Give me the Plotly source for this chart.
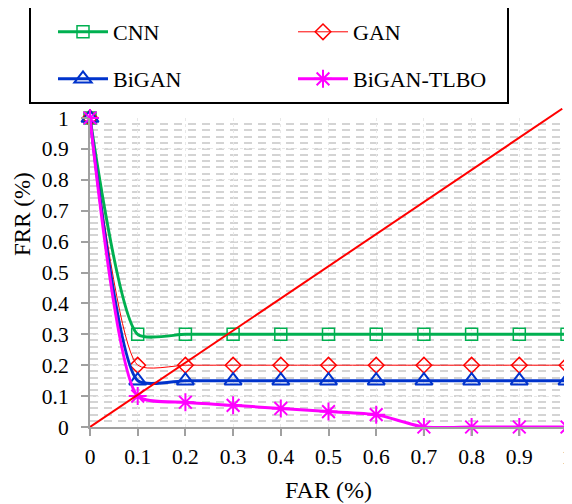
import plotly.graph_objects as go

# ---- data ----
far = [0, 0.1, 0.2, 0.3, 0.4, 0.5, 0.6, 0.7, 0.8, 0.9, 1.0]
cnn = [1, 0.3, 0.3, 0.3, 0.3, 0.3, 0.3, 0.3, 0.3, 0.3, 0.3]
gan = [1, 0.2, 0.2, 0.2, 0.2, 0.2, 0.2, 0.2, 0.2, 0.2, 0.2]
bigan = [1, 0.15, 0.15, 0.15, 0.15, 0.15, 0.15, 0.15, 0.15, 0.15, 0.15]
bigan_tlbo = [1, 0.1, 0.08, 0.07, 0.06, 0.05, 0.04, 0.0, 0.0, 0.0, 0.0]
err_x = [0, 0.99]
err_y = [0, 1.03]
x_ticks = [0, 0.1, 0.2, 0.3, 0.4, 0.5, 0.6, 0.7, 0.8, 0.9, 1]
y_ticks = [0, 0.1, 0.2, 0.3, 0.4, 0.5, 0.6, 0.7, 0.8, 0.9, 1]

# page body has an 8px margin, so the figure is drawn 8px smaller and offset
OFF = 8
W, H = 572 - OFF, 504 - OFF
REF_L, REF_R, REF_T, REF_B, REF_Y1 = 90, 567, 108, 427, 118
ML = REF_L - OFF
MR = W - (REF_R - OFF)
MT = REF_T - OFF
MB = H - (REF_B - OFF)
PW = W - ML - MR
PH = H - MT - MB
main_top = (REF_B - REF_Y1) / PH

def px_x(p):
    return (p - OFF - ML) / PW

def px_y(p):
    return (H - MB - (p - OFF)) / PH

FONT = "'Times New Roman', 'Liberation Serif', serif"
AXC = "#A0A0A0"

fig = go.Figure()

common = dict(mode="lines+markers", cliponaxis=False)

def ln(color, width):
    return dict(color=color, width=width, shape="spline", smoothing=0.6)

fig.add_trace(go.Scatter(x=far, y=cnn, name="CNN", legend="legend",
    line=ln("#00B050", 3),
    marker=dict(symbol="square-open", size=12, color="#00B050", line=dict(width=1.5)),
    **common))
fig.add_trace(go.Scatter(x=far, y=gan, name="GAN", legend="legend2",
    line=ln("#FF0000", 1),
    marker=dict(symbol="diamond-open", size=12, color="#FF0000", line=dict(width=1.5)),
    **common))
fig.add_trace(go.Scatter(x=far, y=bigan, name="BiGAN", legend="legend3",
    line=ln("#0033CC", 3),
    marker=dict(symbol="triangle-up-open", size=15, color="#0033CC", line=dict(width=2)),
    **common))
fig.add_trace(go.Scatter(x=far, y=bigan_tlbo, name="BiGAN-TLBO", legend="legend4",
    line=ln("#FF00FF", 3),
    marker=dict(symbol="asterisk-open", size=15, color="#FF00FF", line=dict(width=2, color="#FF00FF")),
    **common))
fig.add_trace(go.Scatter(x=err_x, y=err_y, mode="lines", showlegend=False,
    line=dict(color="#FF0000", width=2), xaxis="x2", yaxis="y2"))

def leg(xr, yr):
    return dict(orientation="v", x=px_x(xr), y=px_y(yr), xanchor="left", yanchor="middle",
                itemwidth=50, bgcolor="rgba(0,0,0,0)", borderwidth=0,
                font=dict(family=FONT, size=22, color="black"))

fig.update_layout(
    width=W, height=H,
    margin=dict(l=ML, r=MR, t=MT, b=MB, autoexpand=False),
    paper_bgcolor="white", plot_bgcolor="rgba(0,0,0,0)",
    font=dict(family=FONT, size=21, color="black"),
    xaxis=dict(range=[0, 1], tickvals=x_ticks, showline=True, linecolor=AXC, linewidth=2,
               ticks="outside", ticklen=7, tickwidth=2, tickcolor=AXC,
               showgrid=True, gridcolor="#E8E8E8", griddash="dot", gridwidth=1,
               zeroline=False, ticklabelstandoff=2, domain=[0, 1],
               ticklabeloverflow="allow",
               tickfont=dict(family=FONT, size=21.5)),
    yaxis=dict(range=[0, 1], tickvals=y_ticks, showline=True, linecolor=AXC, linewidth=2,
               ticks="outside", ticklen=7, tickwidth=2, tickcolor=AXC,
               showgrid=True, gridcolor="#E8E8E8", griddash="dot", gridwidth=1,
               zeroline=False, ticklabelstandoff=8, domain=[0, main_top],
               ticklabeloverflow="allow",
               minor=dict(dtick=0.02, tick0=0, showgrid=True, gridcolor="#D4D4D4",
                          griddash="8px,6px", gridwidth=2, ticks=""),
               tickfont=dict(family=FONT, size=21.5)),
    xaxis2=dict(range=[0, 1], domain=[0, 1], anchor="y2", visible=False),
    yaxis2=dict(range=[0, 1 / main_top], domain=[0, 1], anchor="x2", visible=False),
    legend=leg(53, 32),
    legend2=leg(293, 32),
    legend3=leg(53, 79),
    legend4=leg(293, 79),
    shapes=[dict(type="rect", xref="paper", yref="paper",
                 x0=px_x(30), x1=px_x(508), y0=px_y(103), y1=px_y(7),
                 line=dict(color="black", width=2), fillcolor="rgba(0,0,0,0)")],
    annotations=[
        dict(text="FRR (%)", xref="paper", yref="paper", x=px_x(22), y=px_y(214),
             textangle=-90, showarrow=False, xanchor="center", yanchor="middle",
             font=dict(family=FONT, size=23)),
        dict(text="FAR (%)", xref="paper", yref="paper", x=px_x(328), y=px_y(490),
             showarrow=False, xanchor="center", yanchor="middle",
             font=dict(family=FONT, size=24)),
    ],
)

fig.write_html("out.html")
